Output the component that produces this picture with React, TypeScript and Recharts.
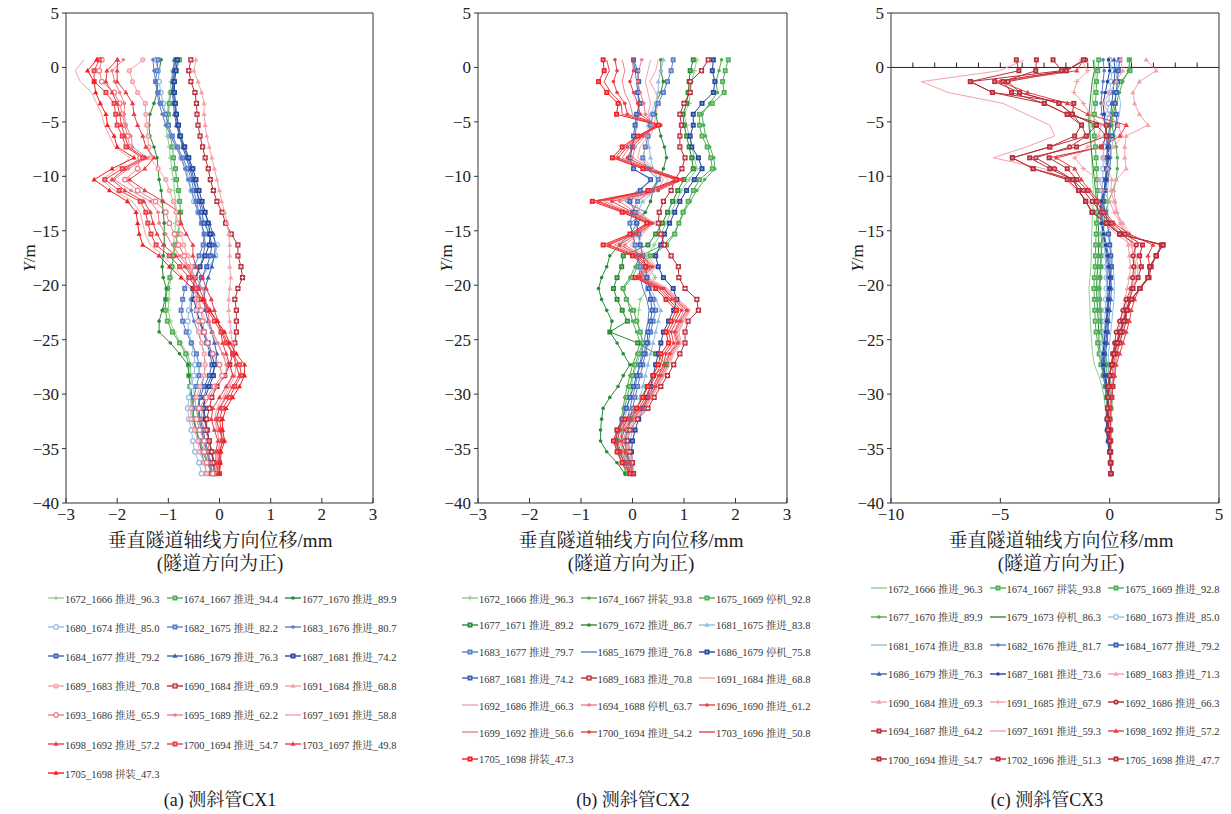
import React from 'react';
import { LineChart, Line, XAxis, YAxis, ReferenceLine } from 'recharts';

const FONT = '"Liberation Serif", "Times New Roman", "Noto Serif CJK SC", "Noto Sans CJK SC", serif';

// depth of each reading, m
const depth = [0.7, -0.3, -1.3, -2.3, -3.3, -4.3, -5.3, -6.3, -7.3, -8.3,
  -9.3, -10.3, -11.3, -12.3, -13.3, -14.3, -15.3, -16.3, -17.3, -18.3,
  -19.3, -20.3, -21.3, -22.3, -23.3, -24.3, -25.3, -26.3, -27.3, -28.3,
  -29.3, -30.3, -31.3, -32.3, -33.3, -34.3, -35.3, -36.3, -37.3];

const yTicks = [5, 0, -5, -10, -15, -20, -25, -30, -35, -40];
const xTicksAB = [-3, -2, -1, 0, 1, 2, 3];
const xTicksC = [-10, -5, 0, 5];
const zeroTicksC = [-9, -8, -7, -6, -5, -4, -3, -2, -1, 0, 1, 2, 3, 4];

// ---- CX1 ----
const a1672 = [-0.88, -0.92, -0.95, -0.97, -1.0, -1.02, -1.05, -1.02, -0.98, -0.96, -0.93, -0.9, -0.88, -0.86, -0.84, -0.86, -0.88, -0.9, -0.9, -0.93, -0.95, -0.98, -0.99, -1.0, -0.96, -0.88, -0.76, -0.62, -0.57, -0.56, -0.52, -0.48, -0.46, -0.42, -0.36, -0.3, -0.24, -0.18, -0.12];
const a1674 = [-0.78, -0.85, -0.9, -0.95, -0.98, -1.0, -1.0, -0.96, -0.92, -0.9, -0.86, -0.84, -0.8, -0.78, -0.76, -0.78, -0.82, -0.86, -0.9, -0.93, -0.97, -1.02, -1.05, -1.06, -1.02, -0.92, -0.78, -0.66, -0.6, -0.6, -0.58, -0.56, -0.55, -0.52, -0.46, -0.38, -0.3, -0.22, -0.14];
const a1677 = [-1.14, -1.18, -1.2, -1.22, -1.28, -1.36, -1.38, -1.36, -1.28, -1.22, -1.2, -1.18, -1.14, -1.12, -1.1, -1.08, -1.08, -1.08, -1.1, -1.12, -1.1, -1.04, -1.06, -1.12, -1.18, -1.18, -0.96, -0.78, -0.62, -0.6, -0.56, -0.54, -0.52, -0.5, -0.46, -0.4, -0.33, -0.24, -0.15];
const a1680 = [-1.25, -1.2, -1.18, -1.15, -1.1, -1.05, -1.0, -0.95, -0.85, -0.75, -0.65, -0.6, -0.55, -0.5, -0.42, -0.3, -0.15, -0.05, -0.08, -0.2, -0.35, -0.45, -0.55, -0.6, -0.62, -0.6, -0.55, -0.5, -0.48, -0.5, -0.55, -0.6, -0.62, -0.6, -0.55, -0.52, -0.48, -0.4, -0.35];
const a1682 = [-1.2, -1.22, -1.25, -1.2, -1.15, -1.05, -1.0, -0.92, -0.82, -0.72, -0.62, -0.55, -0.5, -0.45, -0.4, -0.35, -0.3, -0.32, -0.4, -0.5, -0.6, -0.68, -0.72, -0.75, -0.72, -0.65, -0.55, -0.45, -0.4, -0.4, -0.45, -0.5, -0.52, -0.5, -0.45, -0.4, -0.35, -0.3, -0.25];
const a1683 = [-1.3, -1.28, -1.25, -1.22, -1.18, -1.12, -1.05, -0.95, -0.85, -0.75, -0.68, -0.62, -0.55, -0.48, -0.42, -0.36, -0.3, -0.28, -0.32, -0.38, -0.45, -0.52, -0.55, -0.55, -0.5, -0.42, -0.35, -0.3, -0.28, -0.3, -0.35, -0.4, -0.42, -0.4, -0.35, -0.3, -0.25, -0.2, -0.18];
const a1684 = [-0.85, -0.88, -0.9, -0.9, -0.88, -0.85, -0.82, -0.78, -0.7, -0.62, -0.55, -0.5, -0.45, -0.4, -0.35, -0.3, -0.2, -0.15, -0.18, -0.25, -0.35, -0.42, -0.45, -0.45, -0.4, -0.32, -0.25, -0.18, -0.15, -0.2, -0.3, -0.38, -0.4, -0.38, -0.32, -0.28, -0.22, -0.18, -0.15];
const a1686 = [-0.88, -0.9, -0.92, -0.92, -0.9, -0.88, -0.84, -0.78, -0.72, -0.65, -0.58, -0.52, -0.45, -0.38, -0.3, -0.2, -0.12, -0.08, -0.1, -0.15, -0.22, -0.28, -0.3, -0.28, -0.22, -0.15, -0.1, -0.05, -0.08, -0.15, -0.25, -0.3, -0.32, -0.3, -0.25, -0.2, -0.15, -0.1, -0.08];
const a1687 = [-0.82, -0.85, -0.88, -0.88, -0.86, -0.84, -0.8, -0.76, -0.68, -0.6, -0.52, -0.46, -0.4, -0.34, -0.28, -0.22, -0.18, -0.2, -0.28, -0.38, -0.48, -0.52, -0.5, -0.45, -0.38, -0.3, -0.22, -0.15, -0.1, -0.12, -0.2, -0.28, -0.3, -0.28, -0.24, -0.2, -0.16, -0.12, -0.1];
const a1689 = [-1.5, -1.76, -1.7, -1.6, -1.45, -1.44, -1.42, -1.4, -1.38, -1.35, -1.2, -1.05, -0.98, -0.9, -0.85, -0.82, -0.75, -0.7, -0.62, -0.55, -0.5, -0.48, -0.45, -0.45, -0.42, -0.4, -0.35, -0.3, -0.28, -0.3, -0.38, -0.45, -0.56, -0.56, -0.49, -0.42, -0.4, -0.3, -0.25];
const a1690 = [-0.56, -0.6, -0.56, -0.48, -0.45, -0.44, -0.42, -0.38, -0.33, -0.28, -0.22, -0.18, -0.12, -0.05, 0.05, 0.12, 0.23, 0.36, 0.36, 0.42, 0.45, 0.36, 0.3, 0.33, 0.33, 0.33, 0.3, 0.26, 0.2, 0.1, -0.05, -0.15, -0.2, -0.25, -0.25, -0.2, -0.15, -0.12, -0.1];
const a1691 = [-0.46, -0.5, -0.42, -0.35, -0.3, -0.3, -0.28, -0.25, -0.2, -0.15, -0.1, -0.05, 0.0, 0.04, 0.1, 0.15, 0.18, 0.2, 0.2, 0.2, 0.22, 0.2, 0.18, 0.18, 0.2, 0.22, 0.25, 0.3, 0.32, 0.3, 0.2, 0.1, 0.0, -0.05, -0.05, 0.0, 0.0, -0.02, -0.05];
const a1693 = [-2.3, -2.35, -2.3, -2.06, -1.95, -1.9, -1.85, -1.8, -1.75, -1.55, -1.6, -1.85, -1.6, -1.25, -1.05, -0.98, -0.88, -0.8, -0.69, -0.62, -0.52, -0.46, -0.4, -0.36, -0.33, -0.3, -0.23, -0.13, 0.0, 0.05, -0.1, -0.26, -0.4, -0.45, -0.39, -0.3, -0.3, -0.25, -0.13];
const a1695 = [-1.88, -2.1, -2.05, -1.95, -1.86, -1.86, -1.83, -1.73, -1.7, -1.41, -1.78, -2.06, -1.73, -1.35, -1.2, -1.18, -1.05, -0.92, -0.78, -0.62, -0.46, -0.33, -0.29, -0.23, -0.2, -0.13, -0.03, 0.06, 0.13, 0.13, -0.07, -0.2, -0.33, -0.36, -0.29, -0.2, -0.23, -0.16, -0.07];
const a1697 = [-2.65, -2.82, -2.72, -2.5, -2.4, -2.3, -2.25, -2.15, -2.05, -1.75, -2.0, -2.3, -2.05, -1.7, -1.55, -1.5, -1.45, -1.35, -1.1, -0.9, -0.7, -0.58, -0.46, -0.36, -0.26, -0.16, -0.05, 0.06, 0.2, 0.26, 0.16, 0.06, -0.05, -0.1, -0.05, 0.0, -0.03, -0.05, -0.05];
const a1698 = [-1.99, -2.0, -2.0, -1.83, -1.7, -1.67, -1.6, -1.5, -1.44, -1.28, -1.46, -1.76, -1.46, -1.1, -0.78, -0.75, -0.65, -0.52, -0.52, -0.46, -0.33, -0.26, -0.16, -0.1, -0.03, 0.03, 0.06, 0.13, 0.2, 0.26, 0.13, 0.0, -0.13, -0.16, -0.1, -0.03, -0.07, -0.07, -0.03];
const a1700 = [-2.35, -2.45, -2.45, -2.22, -2.06, -2.03, -2.0, -1.9, -1.83, -1.5, -1.9, -2.24, -1.96, -1.55, -1.44, -1.4, -1.34, -1.24, -0.98, -0.78, -0.59, -0.46, -0.36, -0.23, -0.1, 0.03, 0.13, 0.26, 0.39, 0.43, 0.3, 0.2, 0.06, 0.0, 0.03, 0.06, 0.0, 0.0, 0.0];
const a1703 = [-2.0, -2.2, -2.22, -2.1, -2.0, -1.95, -1.92, -1.85, -1.78, -1.45, -1.85, -2.1, -1.85, -1.48, -1.35, -1.3, -1.22, -1.1, -0.85, -0.68, -0.52, -0.4, -0.3, -0.18, -0.05, 0.06, 0.16, 0.26, 0.32, 0.39, 0.26, 0.13, 0.0, -0.07, 0.0, 0.06, 0.0, -0.02, -0.03];
const a1705 = [-2.4, -2.58, -2.45, -2.42, -2.33, -2.22, -2.19, -2.06, -2.0, -1.67, -2.1, -2.45, -2.15, -1.8, -1.63, -1.6, -1.57, -1.5, -1.18, -0.98, -0.75, -0.52, -0.33, -0.2, -0.05, 0.1, 0.2, 0.33, 0.49, 0.49, 0.39, 0.26, 0.13, 0.06, 0.06, 0.1, 0.03, 0.02, 0.0];

// ---- CX2 ----
const b1672 = [1.25, 1.2, 1.15, 1.12, 1.1, 1.0, 1.05, 1.1, 1.15, 1.2, 1.25, 1.1, 0.95, 0.85, 0.75, 0.65, 0.55, 0.42, 0.28, 0.3, 0.44, 0.3, 0.15, 0.12, 0.1, 0.15, 0.21, 0.15, 0.08, 0.02, -0.02, -0.05, -0.11, -0.15, -0.2, -0.22, -0.18, -0.12, -0.08];
const b1674 = [1.73, 1.68, 1.62, 1.65, 1.5, 1.35, 1.38, 1.42, 1.5, 1.58, 1.6, 1.4, 1.25, 1.12, 1.0, 0.9, 0.8, 0.6, 0.15, 0.05, -0.05, -0.2, -0.1, -0.05, 0.0, 0.08, 0.15, 0.08, 0.0, -0.05, -0.1, -0.15, -0.18, -0.22, -0.28, -0.34, -0.3, -0.2, -0.1];
const b1675 = [1.86, 1.8, 1.75, 1.78, 1.55, 1.3, 1.3, 1.35, 1.45, 1.52, 1.55, 1.3, 1.18, 1.08, 0.98, 0.9, 0.82, 0.66, 0.35, 0.1, -0.01, -0.18, -0.12, 0.02, 0.08, 0.15, 0.2, 0.12, 0.05, 0.0, -0.05, -0.11, -0.15, -0.2, -0.25, -0.3, -0.28, -0.2, -0.12];
const b1677 = [1.18, 1.12, 1.1, 1.08, 1.05, 0.98, 1.0, 1.05, 1.1, 1.15, 1.18, 1.0, 0.88, 0.78, 0.68, 0.58, 0.45, 0.3, -0.18, -0.21, -0.3, -0.37, -0.3, -0.2, -0.1, -0.44, 0.1, 0.45, 0.66, 0.4, 0.28, 0.18, 0.08, -0.02, -0.1, -0.15, -0.12, -0.05, 0.0];
const b1679 = [0.55, 0.55, 0.6, 0.55, 0.45, 0.45, 0.5, 0.55, 0.62, 0.66, 0.6, 0.5, 0.4, 0.35, 0.25, 0.1, -0.05, -0.25, -0.44, -0.5, -0.6, -0.66, -0.6, -0.5, -0.4, -0.44, -0.3, -0.18, -0.05, -0.18, -0.28, -0.44, -0.57, -0.6, -0.62, -0.62, -0.5, -0.3, -0.15];
const b1681 = [0.6, 0.55, 0.5, 0.5, 0.45, 0.35, 0.3, 0.3, 0.32, 0.35, 0.4, 0.5, 0.45, 0.2, 0.1, 0.05, 0.1, 0.15, 0.2, 0.25, 0.3, 0.35, 0.45, 0.55, 0.5, 0.45, 0.4, 0.35, 0.3, 0.25, 0.2, 0.15, 0.1, 0.05, 0.0, -0.05, -0.05, 0.0, 0.0];
const b1683 = [0.79, 0.75, 0.68, 0.6, 0.5, 0.4, 0.35, 0.3, 0.25, 0.2, 0.28, 0.5, 0.35, 0.1, 0.0, -0.05, 0.0, 0.05, 0.1, 0.15, 0.2, 0.3, 0.4, 0.45, 0.4, 0.35, 0.3, 0.25, 0.2, 0.15, 0.1, 0.05, 0.0, -0.05, -0.1, -0.12, -0.1, -0.05, 0.0];
const b1685 = [0.02, 0.05, 0.08, 0.1, 0.12, 0.1, 0.08, 0.05, 0.0, -0.05, 0.0, 0.4, 0.1, -0.15, 0.25, -0.05, 0.0, 0.05, 0.08, 0.12, 0.15, 0.2, 0.28, 0.32, 0.3, 0.26, 0.22, 0.18, 0.14, 0.1, 0.05, 0.0, -0.05, -0.1, -0.2, -0.22, -0.15, -0.08, -0.03];
const b1686 = [1.57, 1.55, 1.6, 1.57, 1.35, 1.18, 1.18, 1.12, 1.15, 1.28, 1.35, 1.2, 1.05, 0.92, 0.82, 0.72, 0.62, 0.55, 0.45, 0.5, 0.6, 0.79, 0.86, 0.8, 0.7, 0.6, 0.55, 0.5, 0.45, 0.4, 0.35, 0.28, 0.2, 0.12, 0.05, 0.0, -0.02, 0.0, 0.02];
const b1687 = [0.02, 0.1, 0.12, 0.1, 0.15, 0.08, 0.05, 0.02, 0.0, -0.05, 0.02, 0.35, 0.15, -0.05, 0.05, 0.08, 0.12, 0.15, 0.2, 0.25, 0.28, 0.32, 0.35, 0.38, 0.35, 0.3, 0.28, 0.22, 0.15, 0.08, 0.02, -0.05, -0.12, -0.2, -0.3, -0.32, -0.25, -0.15, -0.05];
const b1689 = [1.47, 1.34, 1.12, 1.12, 1.0, 0.92, 0.95, 0.92, 0.92, 1.02, 0.96, 0.82, 0.75, 0.6, 0.52, 0.5, 0.55, 0.62, 0.75, 0.89, 0.9, 1.02, 1.25, 1.28, 1.08, 1.02, 1.02, 0.92, 0.8, 0.68, 0.55, 0.42, 0.3, 0.1, -0.05, -0.1, -0.05, 0.0, 0.02];
const b1691 = [0.5, 0.45, 0.34, 0.45, 0.5, 0.45, 0.42, 0.35, 0.25, 0.2, 0.42, 0.6, 0.48, 0.05, 0.15, 0.4, 0.2, 0.1, 0.3, 0.45, 0.3, 0.68, 0.9, 1.12, 1.0, 0.9, 0.95, 0.8, 0.72, 0.62, 0.5, 0.38, 0.25, 0.08, -0.05, -0.11, -0.05, 0.02, 0.02];
const b1692 = [0.35, 0.3, 0.25, 0.3, 0.35, 0.3, 0.38, 0.3, 0.15, 0.1, 0.4, 0.7, 0.5, -0.1, 0.1, 0.42, 0.15, -0.05, 0.25, 0.42, 0.25, 0.65, 0.88, 1.1, 0.98, 0.88, 0.92, 0.78, 0.7, 0.6, 0.48, 0.36, 0.24, 0.05, -0.08, -0.14, -0.06, 0.0, 0.02];
const b1694 = [0.18, 0.12, 0.1, 0.15, 0.22, 0.25, 0.4, 0.25, 0.05, 0.0, 0.38, 0.8, 0.5, -0.25, 0.05, 0.4, 0.12, -0.15, 0.2, 0.4, 0.2, 0.62, 0.85, 1.08, 0.95, 0.85, 0.9, 0.75, 0.68, 0.58, 0.45, 0.35, 0.22, 0.02, -0.12, -0.18, -0.1, -0.03, 0.01];
const b1696 = [0.0, 0.02, -0.05, 0.02, 0.1, 0.15, 0.45, 0.2, 0.0, -0.1, 0.35, 0.97, 0.5, -0.4, 0.0, 0.38, 0.08, -0.25, 0.18, 0.38, 0.15, 0.6, 0.82, 1.05, 0.92, 0.82, 0.88, 0.72, 0.65, 0.55, 0.45, 0.32, 0.2, -0.02, -0.16, -0.22, -0.14, -0.05, 0.0];
const b1699 = [-0.2, -0.15, -0.2, -0.15, -0.05, 0.0, 0.5, 0.18, -0.05, -0.2, 0.32, 0.92, 0.45, -0.55, -0.05, 0.35, 0.05, -0.35, 0.15, 0.35, 0.12, 0.58, 0.8, 1.0, 0.9, 0.8, 0.85, 0.7, 0.62, 0.52, 0.42, 0.3, 0.18, -0.05, -0.2, -0.26, -0.18, -0.08, 0.0];
const b1700 = [-0.34, -0.3, -0.37, -0.3, -0.15, -0.1, 0.55, 0.15, -0.1, -0.28, 0.3, 0.95, 0.4, -0.65, -0.1, 0.32, 0.02, -0.45, 0.1, 0.32, 0.1, 0.55, 0.75, 0.95, 0.85, 0.75, 0.8, 0.65, 0.6, 0.5, 0.4, 0.3, 0.15, -0.08, -0.24, -0.3, -0.22, -0.12, -0.02];
const b1703 = [-0.5, -0.45, -0.55, -0.42, -0.22, -0.2, 0.52, 0.12, -0.15, -0.34, 0.25, 0.9, 0.35, -0.7, -0.15, 0.3, 0.0, -0.5, 0.05, 0.3, 0.08, 0.5, 0.7, 0.9, 0.8, 0.7, 0.75, 0.6, 0.55, 0.45, 0.35, 0.25, 0.12, -0.12, -0.28, -0.34, -0.26, -0.16, -0.03];
const b1705 = [-0.57, -0.55, -0.66, -0.5, -0.28, -0.31, 0.5, 0.1, -0.2, -0.39, 0.2, 0.85, 0.3, -0.78, -0.2, 0.28, -0.05, -0.57, 0.0, 0.25, 0.05, 0.45, 0.65, 0.85, 0.75, 0.65, 0.7, 0.55, 0.5, 0.4, 0.3, 0.2, 0.08, -0.15, -0.3, -0.37, -0.3, -0.2, -0.05];

// ---- CX3 ----
const c1672 = [-0.7, -0.65, -0.7, -0.75, -0.8, -0.85, -0.9, -0.88, -0.85, -0.82, -0.8, -0.78, -0.75, -0.75, -0.78, -0.8, -0.82, -0.84, -0.84, -0.86, -0.9, -0.95, -0.92, -0.9, -0.88, -0.85, -0.82, -0.78, -0.7, -0.5, -0.35, -0.25, -0.2, -0.15, -0.1, -0.05, 0.0, 0.0, 0.05];
const c1674 = [-0.5, -0.55, -0.6, -0.62, -0.65, -0.7, -0.72, -0.7, -0.65, -0.62, -0.6, -0.58, -0.55, -0.55, -0.58, -0.6, -0.62, -0.64, -0.65, -0.66, -0.7, -0.72, -0.7, -0.68, -0.66, -0.62, -0.55, -0.48, -0.4, -0.3, -0.2, -0.15, -0.1, -0.08, -0.05, 0.0, 0.02, 0.05, 0.05];
const c1675 = [0.9, 0.93, 0.5, 0.3, 0.2, 0.1, 0.05, 0.0, -0.05, -0.08, -0.1, -0.15, -0.2, -0.25, -0.3, -0.32, -0.35, -0.38, -0.4, -0.42, -0.45, -0.5, -0.48, -0.45, -0.42, -0.38, -0.32, -0.25, -0.18, -0.1, 0.0, 0.05, 0.05, 0.02, 0.0, 0.0, 0.02, 0.04, 0.05];
const c1677 = [0.93, 0.85, 0.6, 0.45, 0.3, 0.15, 0.1, 0.2, 0.3, 0.35, 0.35, 0.3, 0.15, -0.05, -0.2, -0.25, -0.3, -0.35, -0.38, -0.4, -0.42, -0.45, -0.42, -0.4, -0.38, -0.35, -0.3, -0.2, -0.1, 0.0, 0.08, 0.12, 0.1, 0.05, 0.02, 0.0, 0.02, 0.04, 0.05];
const c1679 = [-0.76, -0.7, -0.8, -0.85, -0.9, -0.95, -0.95, -0.9, -0.85, -0.8, -0.75, -0.7, -0.65, -0.6, -0.55, -0.52, -0.5, -0.5, -0.52, -0.55, -0.58, -0.6, -0.58, -0.55, -0.52, -0.5, -0.48, -0.42, -0.35, -0.25, -0.15, -0.1, -0.05, -0.05, -0.02, 0.0, 0.02, 0.04, 0.05];
const c1680 = [0.0, 0.1, 0.05, 0.0, -0.05, -0.1, -0.15, -0.2, -0.25, -0.3, -0.3, -0.32, -0.35, -0.38, -0.4, -0.35, -0.3, -0.25, -0.2, -0.18, -0.15, -0.15, -0.18, -0.2, -0.22, -0.25, -0.3, -0.35, -0.3, -0.2, -0.1, -0.05, -0.08, -0.1, -0.1, -0.05, 0.0, 0.02, 0.05];
const c1681 = [0.3, 0.35, 0.3, 0.4, 0.5, 0.45, 0.3, 0.2, 0.1, 0.05, 0.0, -0.05, -0.1, -0.1, -0.08, -0.05, 0.0, 0.05, 0.1, 0.15, 0.2, 0.22, 0.2, 0.15, 0.1, 0.05, 0.0, -0.05, -0.05, 0.0, 0.05, 0.08, 0.1, 0.08, 0.05, 0.05, 0.05, 0.05, 0.05];
const c1682 = [-0.3, -0.25, -0.3, -0.35, -0.4, -0.35, -0.2, -0.1, 0.0, 0.05, 0.0, -0.1, -0.2, -0.3, -0.35, -0.3, -0.25, -0.2, -0.15, -0.12, -0.1, -0.08, -0.1, -0.12, -0.15, -0.2, -0.25, -0.3, -0.32, -0.28, -0.22, -0.15, -0.1, -0.1, -0.1, -0.05, 0.0, 0.02, 0.05];
const c1684 = [0.46, 0.4, 0.35, 0.3, 0.25, 0.3, 0.35, 0.1, -0.05, -0.1, -0.15, -0.2, -0.25, -0.3, -0.2, -0.1, -0.05, 0.0, 0.05, 0.08, 0.05, 0.0, -0.05, -0.08, -0.1, -0.12, -0.18, -0.25, -0.28, -0.2, -0.1, -0.05, -0.05, -0.08, -0.1, -0.05, 0.02, 0.05, 0.05];
const c1686 = [0.2, 0.25, 0.2, 0.15, 0.1, 0.05, 0.0, -0.05, -0.1, -0.15, -0.15, -0.2, -0.25, -0.35, -0.4, -0.35, -0.25, -0.15, -0.05, 0.0, 0.05, 0.08, 0.05, 0.0, -0.05, -0.08, -0.12, -0.2, -0.25, -0.2, -0.1, -0.05, -0.05, -0.1, -0.12, -0.08, 0.0, 0.05, 0.05];
const c1687 = [-0.05, 0.0, -0.1, -0.2, -0.3, -0.25, -0.2, -0.15, -0.1, -0.05, -0.1, -0.15, -0.25, -0.4, -0.45, -0.38, -0.3, -0.2, -0.1, -0.05, 0.0, 0.0, -0.05, -0.1, -0.15, -0.2, -0.25, -0.3, -0.3, -0.22, -0.15, -0.08, -0.12, -0.15, -0.15, -0.1, -0.02, 0.05, 0.05];
const c1689 = [1.67, 2.13, 1.36, 1.06, 1.14, 1.36, 1.75, 0.76, 0.69, 0.69, 0.76, 0.3, 0.2, 0.25, 0.35, 0.5, 0.7, 0.85, 0.9, 0.95, 0.9, 0.8, 0.7, 0.6, 0.5, 0.4, 0.35, 0.3, 0.25, 0.2, 0.15, 0.1, 0.05, 0.02, 0.0, 0.0, 0.02, 0.04, 0.05];
const c1690 = [0.5, 0.6, 0.3, 0.0, -0.3, 0.0, 0.4, 0.55, 0.2, -0.3, -0.1, 0.1, 0.05, 0.2, 0.3, 0.6, 0.9, 1.1, 1.2, 1.3, 1.25, 1.0, 0.9, 0.8, 0.7, 0.55, 0.45, 0.35, 0.28, 0.2, 0.15, 0.1, 0.05, 0.02, 0.0, 0.0, 0.02, 0.04, 0.05];
const c1691 = [-1.3, -1.0, -1.5, -1.64, -1.2, -0.9, -0.4, -0.5, -1.0, -1.6, -1.2, -0.5, -0.3, 0.0, 0.2, 0.5, 0.8, 1.0, 1.1, 1.2, 1.15, 0.95, 0.8, 0.7, 0.6, 0.5, 0.4, 0.3, 0.2, 0.15, 0.1, 0.05, 0.02, 0.0, 0.0, 0.0, 0.02, 0.04, 0.05];
const c1692 = [-1.1, -1.98, -4.65, -4.12, -2.32, -1.71, -0.61, -1.07, -1.83, -3.38, -2.52, -1.68, -1.2, -0.8, -0.4, 0.0, 0.5, 1.22, 1.07, 1.1, 1.05, 0.99, 0.76, 0.61, 0.46, 0.3, 0.23, 0.15, 0.08, 0.0, 0.0, -0.05, -0.05, -0.05, 0.0, 0.0, 0.02, 0.04, 0.05];
const c1694 = [-3.35, -3.38, -4.88, -4.49, -2.99, -1.94, -0.15, -0.15, -0.38, -2.77, -1.94, -1.5, -1.0, -0.6, -0.3, 0.1, 0.7, 1.5, 1.37, 1.45, 1.3, 1.07, 0.91, 0.76, 0.76, 0.61, 0.46, 0.3, 0.15, 0.15, 0.15, 0.1, 0.0, 0.0, 0.05, 0.05, 0.05, 0.05, 0.05];
const c1697 = [-3.9, -5.03, -8.61, -7.39, -4.88, -3.81, -2.74, -2.52, -3.81, -5.33, -3.0, -2.0, -1.5, -1.0, -0.6, -0.2, 0.3, 1.0, 1.1, 1.2, 1.1, 1.0, 0.8, 0.7, 0.6, 0.5, 0.4, 0.3, 0.2, 0.15, 0.1, 0.05, 0.0, -0.02, 0.0, 0.0, 0.02, 0.04, 0.05];
const c1698 = [-1.2, -1.5, -5.0, -3.75, -1.94, -1.0, 0.76, 0.46, -0.38, -2.44, -1.6, -1.3, -0.9, -0.5, -0.2, 0.2, 0.9, 1.98, 1.75, 1.83, 1.75, 1.37, 1.14, 0.99, 0.9, 0.76, 0.61, 0.46, 0.3, 0.23, 0.15, 0.08, 0.05, 0.02, 0.05, 0.05, 0.05, 0.05, 0.05];
const c1700 = [-2.59, -2.2, -6.37, -5.36, -1.64, -1.71, -0.61, -0.15, -1.52, -3.66, -2.74, -1.68, -1.42, -1.1, -0.8, -0.15, 0.46, 2.36, 2.13, 1.83, 1.75, 1.37, 0.99, 0.76, 0.61, 0.46, 0.3, 0.15, 0.08, 0.0, -0.05, -0.08, -0.1, -0.1, -0.05, 0.0, 0.02, 0.04, 0.05];
const c1702 = [-1.2, -1.98, -5.26, -4.12, -2.32, -1.71, -1.29, -1.07, -2.74, -4.45, -3.5, -1.68, -1.42, -1.1, -0.8, -0.15, 0.46, 2.44, 2.13, 1.9, 1.8, 1.4, 1.0, 0.8, 0.65, 0.5, 0.35, 0.2, 0.1, 0.0, -0.05, -0.08, -0.1, -0.1, -0.05, 0.0, 0.02, 0.04, 0.05];
const c1705 = [-4.27, -4.15, -6.37, -5.36, -2.99, -1.94, -1.29, -1.6, -2.74, -4.45, -3.5, -1.94, -1.42, -1.1, -0.8, -0.15, 0.46, 2.44, 2.13, 1.83, 1.75, 1.37, 1.0, 0.8, 0.65, 0.5, 0.35, 0.2, 0.1, 0.0, -0.05, -0.08, -0.1, -0.12, -0.08, 0.0, 0.02, 0.04, 0.05];

// colours
const lg = '#8fd08f', g = '#4fae55', dg = '#2b8a36';
const lb = '#94bde6', b = '#5a7ec6', b2 = '#3b62b8', db = '#23469d';
const pk = '#f4a1a9', pk2 = '#ee7d88', rd = '#ea3f46', rd2 = '#f41e22', dr = '#b92c39';

type S = { n: string; v: number[]; c: string; m: string };
const s = (n: string, v: number[], c: string, m: string): S => ({ n, v, c, m });

const seriesA: S[] = [
  s('1672_1666 推进_96.3', a1672, lg, 'plus'), s('1674_1667 推进_94.4', a1674, g, 'sq'), s('1677_1670 推进_89.9', a1677, dg, 'dot'),
  s('1680_1674 推进_85.0', a1680, lb, 'circ'), s('1682_1675 推进_82.2', a1682, b, 'sq'), s('1683_1676 推进_80.7', a1683, b, 'dot'),
  s('1684_1677 推进_79.2', a1684, b2, 'sq'), s('1686_1679 推进_76.3', a1686, b2, 'tri'), s('1687_1681 推进_74.2', a1687, db, 'sq'),
  s('1689_1683 推进_70.8', a1689, pk, 'circx'), s('1690_1684 推进_69.9', a1690, dr, 'sqx'), s('1691_1684 推进_68.8', a1691, pk, 'tri'),
  s('1693_1686 推进_65.9', a1693, pk2, 'circ'), s('1695_1689 推进_62.2', a1695, pk2, 'dot'), s('1697_1691 推进_58.8', a1697, pk, 'none'),
  s('1698_1692 推进_57.2', a1698, rd, 'tri'), s('1700_1694 推进_54.7', a1700, rd, 'sq'), s('1703_1697 推进_49.8', a1703, rd, 'tri'),
  s('1705_1698 拼装_47.3', a1705, rd2, 'tri'),
];

const seriesB: S[] = [
  s('1672_1666 推进_96.3', b1672, lg, 'plus'), s('1674_1667 拼装_93.8', b1674, g, 'dot'), s('1675_1669 停机_92.8', b1675, g, 'sq'),
  s('1677_1671 推进_89.2', b1677, dg, 'sq'), s('1679_1672 推进_86.7', b1679, dg, 'dot'), s('1681_1675 推进_83.8', b1681, lb, 'tri'),
  s('1683_1677 推进_79.7', b1683, b, 'sq'), s('1685_1679 推进_76.8', b1685, b, 'none'), s('1686_1679 停机_75.8', b1686, db, 'sq'),
  s('1687_1681 推进_74.2', b1687, b2, 'sq'), s('1689_1683 推进_70.8', b1689, dr, 'sqx'), s('1691_1684 推进_68.8', b1691, pk, 'none'),
  s('1692_1686 推进_66.3', b1692, pk, 'none'), s('1694_1688 停机_63.7', b1694, pk2, 'dot'), s('1696_1690 推进_61.2', b1696, rd, 'dot'),
  s('1699_1692 推进_56.6', b1699, pk2, 'none'), s('1700_1694 推进_54.2', b1700, rd, 'dot'), s('1703_1696 推进_50.8', b1703, rd, 'none'),
  s('1705_1698 拼装_47.3', b1705, rd2, 'sq'),
];

const seriesC: S[] = [
  s('1672_1666 推进_96.3', c1672, lg, 'none'), s('1674_1667 拼装_93.8', c1674, g, 'sq'), s('1675_1669 推进_92.8', c1675, g, 'sq'),
  s('1677_1670 推进_89.9', c1677, g, 'dot'), s('1679_1673 停机_86.3', c1679, dg, 'none'), s('1680_1673 推进_85.0', c1680, lb, 'circ'),
  s('1681_1674 推进_83.8', c1681, lb, 'none'), s('1682_1676 推进_81.7', c1682, b, 'dot'), s('1684_1677 推进_79.2', c1684, b2, 'sq'),
  s('1686_1679 推进_76.3', c1686, b2, 'tri'), s('1687_1681 推进_73.6', c1687, db, 'dot'), s('1689_1683 推进_71.3', c1689, pk, 'tri'),
  s('1690_1684 推进_69.3', c1690, pk, 'tri'), s('1691_1685 推进_67.9', c1691, pk, 'plus'), s('1692_1686 推进_66.3', c1692, dr, 'circx'),
  s('1694_1687 推进_64.2', c1694, dr, 'sq'), s('1697_1691 推进_59.3', c1697, pk, 'none'), s('1698_1692 推进_57.2', c1698, rd, 'tri'),
  s('1700_1694 推进_54.7', c1700, dr, 'sq'), s('1702_1696 推进_51.3', c1702, dr, 'sq'), s('1705_1698 推进_47.7', c1705, dr, 'sq'),
];

const fmt = (v: number) => (v < 0 ? '\u2212' + Math.abs(v) : String(v));

function Marker({ m, c, x, y }: { m: string; c: string; x: number; y: number }) {
  switch (m) {
    case 'plus':
      return <path d={`M${x - 2.5},${y}h5M${x},${y - 2.5}v5`} stroke={c} strokeWidth={1.2} />;
    case 'sq':
      return (
        <g>
          <rect x={x - 2.5} y={y - 2.5} width={5} height={5} fill={c} />
          <rect x={x - 1} y={y - 1} width={2} height={2} fill="#fff" opacity={0.45} />
        </g>
      );
    case 'sqx':
      return (
        <g>
          <rect x={x - 2.6} y={y - 2.6} width={5.2} height={5.2} fill={c} />
          <path d={`M${x - 1.6},${y}h3.2M${x},${y - 1.6}v3.2`} stroke="#fff" strokeWidth={0.9} />
        </g>
      );
    case 'circ':
      return <circle cx={x} cy={y} r={2.3} fill="#fff" stroke={c} strokeWidth={1.3} />;
    case 'circx':
      return (
        <g>
          <circle cx={x} cy={y} r={2.6} fill={c} />
          <circle cx={x} cy={y} r={1.1} fill="#fff" opacity={0.7} />
        </g>
      );
    case 'dot':
      return <circle cx={x} cy={y} r={1.8} fill={c} />;
    case 'tri':
      return <path d={`M${x},${y - 2.8}L${x + 2.6},${y + 1.8}L${x - 2.6},${y + 1.8}Z`} fill={c} />;
    default:
      return <g />;
  }
}

const XTick = (props: any) => {
  const { x, y, payload } = props;
  return (
    <g>
      <line x1={x} x2={x} y1={y - 5} y2={y - 10} stroke="#333" />
      <text x={x} y={y} dy="0.71em" textAnchor="middle" fontSize={17} fill="#222" fontFamily={FONT}>
        {fmt(payload.value)}
      </text>
    </g>
  );
};

type P = {
  left: number; width: number; ml: number; mr: number; dom: number[]; ticks: number[]; series: S[];
  zero?: boolean; ylabX: number; center: number; capCenter: number; cap: string;
  legX: number; legY: number; legRow: number;
};

const panels: P[] = [
  { left: 0, width: 400, ml: 26, mr: 27, dom: [-3, 3], ticks: xTicksAB, series: seriesA, ylabX: 30, center: 220, capCenter: 220, cap: '(a) 测斜管CX1', legX: 48, legY: 598, legRow: 29.2 },
  { left: 410, width: 400, ml: 28, mr: 23, dom: [-3, 3], ticks: xTicksAB, series: seriesB, ylabX: 447, center: 631, capCenter: 633, cap: '(b) 测斜管CX2', legX: 462, legY: 598, legRow: 26.8 },
  { left: 820, width: 411, ml: 31, mr: 12, dom: [-10, 5], ticks: xTicksC, series: seriesC, zero: true, ylabX: 858, center: 1061, capCenter: 1047, cap: '(c) 测斜管CX3', legX: 871, legY: 588, legRow: 28.5 },
];

function Panel({ p }: { p: P }) {
  const rows = depth.map((d, i) => {
    const r: Record<string, number> = { depth: d };
    p.series.forEach((se, j) => { r['s' + j] = se.v[i]; });
    return r;
  });
  return (
    <div style={{ position: 'absolute', left: p.left, top: 0 }}>
      <LineChart layout="vertical" width={p.width} height={530} data={rows}
        margin={{ top: 13, right: p.mr, bottom: 5, left: p.ml }}>
        <XAxis type="number" domain={p.dom} ticks={p.ticks} interval={0} allowDataOverflow height={22}
          axisLine={{ stroke: '#333' }} tickLine={false} tickSize={0} tickMargin={5} tick={XTick} />
        <YAxis type="number" dataKey="depth" domain={[-40, 5]} ticks={yTicks} interval={0} allowDataOverflow width={40}
          reversed axisLine={{ stroke: '#333' }} tickLine={{ stroke: '#333' }} tickSize={4} tickMargin={3}
          tick={{ fill: '#222', fontSize: 17, fontFamily: FONT }} tickFormatter={fmt} />
        <ReferenceLine x={p.dom[1]} stroke="#333" />
        <ReferenceLine y={5} stroke="#333" />
        {p.zero && <ReferenceLine y={0} stroke="#222" />}
        {p.zero && zeroTicksC.map((t) => (
          <ReferenceLine key={'zt' + t} segment={[{ x: t, y: 0 }, { x: t, y: 0.45 }]} stroke="#222" />
        ))}
        {p.series.map((se, j) => (
          <Line key={j} type="linear" dataKey={'s' + j} stroke={se.c} strokeWidth={1} isAnimationActive={false}
            activeDot={false}
            dot={se.m === 'none' ? false : (dp: any) => <Marker key={'d' + j + '_' + dp.index} m={se.m} c={se.c} x={dp.cx} y={dp.cy} />} />
        ))}
      </LineChart>
    </div>
  );
}

function Legend({ p }: { p: P }) {
  return (
    <>
      {p.series.map((se, i) => (
        <div key={i} style={{
          position: 'absolute', left: p.legX + (i % 3) * 118.5, top: p.legY + Math.floor(i / 3) * p.legRow - 8,
          height: 16, display: 'flex', alignItems: 'center', whiteSpace: 'nowrap', fontSize: 10.5, color: '#333', fontFamily: FONT,
        }}>
          <svg width={16} height={10} style={{ display: 'block' }}>
            <line x1={0} x2={16} y1={5} y2={5} stroke={se.c} strokeWidth={1.4} />
            <Marker m={se.m} c={se.c} x={8} y={5} />
          </svg>
          <span style={{ marginLeft: 1 }}>{se.n}</span>
        </div>
      ))}
    </>
  );
}

export default function App() {
  return (
    <div style={{ position: 'absolute', left: 0, top: 0, width: 1231, height: 814, background: '#fff', fontFamily: FONT, color: '#1a1a1a' }}>
      {panels.map((p, k) => (
        <React.Fragment key={k}>
          <Panel p={p} />
          <div style={{ position: 'absolute', left: p.ylabX - 40, top: 248, width: 80, textAlign: 'center', fontSize: 17, transform: 'rotate(-90deg)' }}>
            <i>Y</i>/m
          </div>
          <div style={{ position: 'absolute', left: p.center - 200, top: 529, width: 400, textAlign: 'center', fontSize: 19, lineHeight: '23px' }}>
            垂直隧道轴线方向位移/mm<br />(隧道方向为正)
          </div>
          <Legend p={p} />
          <div style={{ position: 'absolute', left: p.capCenter - 150, top: 789, width: 300, textAlign: 'center', fontSize: 18, lineHeight: '22px' }}>
            {p.cap}
          </div>
        </React.Fragment>
      ))}
    </div>
  );
}
